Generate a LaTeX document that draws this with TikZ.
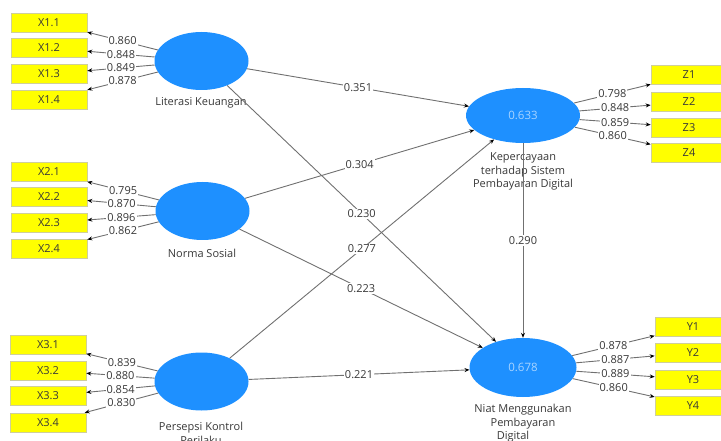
\documentclass[tikz,border=0pt]{standalone}
\usepackage{fontspec}
\setmainfont{Open Sans}
\usetikzlibrary{arrows.meta,shapes.geometric}
\definecolor{lv}{HTML}{1E90FF}
\definecolor{ind}{HTML}{FFFF00}
\definecolor{indb}{HTML}{CFCF9A}
\definecolor{txt}{HTML}{383838}
\definecolor{ln}{HTML}{707070}
\definecolor{rsq}{HTML}{A8D4FF}
\begin{document}
\begin{tikzpicture}[x=1pt,y=-1pt,
  font=\fontsize{11}{13.5}\selectfont,
  latent/.style={ellipse,fill=lv,draw=none,inner sep=0pt,minimum width=94pt,minimum height=58pt,text=rsq,font=\fontsize{11.5}{13.5}\selectfont},
  indic/.style={rectangle,fill=ind,draw=indb,line width=0.6pt,minimum width=76pt,minimum height=19pt,inner sep=0pt,text=txt},
  conn/.style={draw=ln,line width=0.9pt,-{Stealth[length=5pt,width=4pt,color=black]}},
  val/.style={fill=white,inner sep=1pt,text=txt},
  lvl/.style={text=txt,align=center,inner sep=0pt}]
\useasboundingbox (0,0) rectangle (721,441);
% latent variables
\node[latent] (lit) at (201.5,61) {};
\node[latent] (nor) at (202.5,211) {};
\node[latent] (per) at (201.5,381.5) {};
\node[latent,minimum width=114pt,minimum height=55pt] (kep) at (523,115.5) {0.633};
\node[latent,minimum width=107pt,minimum height=59pt] (niat) at (523,367.5) {0.678};
% latent labels
\node[lvl] (litl) at (201,103) {Literasi Keuangan};
\node[lvl] (norl) at (202,253) {Norma Sosial};
\node[lvl] (perl) at (201,433.5) {Persepsi Kontrol\\Perilaku};
\node[lvl] (kepl) at (523,171.5) {Kepercayaan\\terhadap Sistem\\Pembayaran Digital};
\node[lvl] (niatl) at (523,423.5) {Niat Menggunakan\\Pembayaran\\Digital\hspace*{20pt}};
% indicators
\node[indic] (x11) at (49,22.5) {X1.1};
\node[indic] (x12) at (49,48) {X1.2};
\node[indic] (x13) at (49,74) {X1.3};
\node[indic] (x14) at (49,99.5) {X1.4};
\node[indic] (x21) at (49,172) {X2.1};
\node[indic] (x22) at (49,197) {X2.2};
\node[indic] (x23) at (49,223) {X2.3};
\node[indic] (x24) at (49,249) {X2.4};
\node[indic] (x31) at (48,344.5) {X3.1};
\node[indic] (x32) at (48,370.5) {X3.2};
\node[indic] (x33) at (48,396) {X3.3};
\node[indic] (x34) at (48,422.5) {X3.4};
\node[indic] (z1) at (689,75) {Z1};
\node[indic] (z2) at (689,102) {Z2};
\node[indic] (z3) at (689,127.5) {Z3};
\node[indic] (z4) at (689,153) {Z4};
\node[indic] (y1) at (693,326.5) {Y1};
\node[indic] (y2) at (693,352.5) {Y2};
\node[indic] (y3) at (693,379.5) {Y3};
\node[indic] (y4) at (693,405.5) {Y4};
% outer loadings
\draw[conn] (lit) -- node[val]{0.860} (x11);
\draw[conn] (lit) -- node[val]{0.848} (x12);
\draw[conn] (lit) -- node[val]{0.849} (x13);
\draw[conn] (lit) -- node[val]{0.878} (x14);
\draw[conn] (nor) -- node[val]{0.795} (x21);
\draw[conn] (nor) -- node[val]{0.870} (x22);
\draw[conn] (nor) -- node[val]{0.896} (x23);
\draw[conn] (nor) -- node[val]{0.862} (x24);
\draw[conn] (per) -- node[val]{0.839} (x31);
\draw[conn] (per) -- node[val]{0.880} (x32);
\draw[conn] (per) -- node[val]{0.854} (x33);
\draw[conn] (per) -- node[val]{0.830} (x34);
\draw[conn] (kep) -- node[val]{0.798} (z1);
\draw[conn] (kep) -- node[val]{0.848} (z2);
\draw[conn] (kep) -- node[val]{0.859} (z3);
\draw[conn] (kep) -- node[val]{0.860} (z4);
\draw[conn] (niat) -- node[val]{0.878} (y1);
\draw[conn] (niat) -- node[val]{0.887} (y2);
\draw[conn] (niat) -- node[val]{0.889} (y3);
\draw[conn] (niat) -- node[val]{0.860} (y4);
% structural paths
\draw[conn] (lit) -- node[val]{0.351} (kep);
\draw[conn] (nor) -- node[val]{0.304} (kep);
\draw[conn] (per) -- node[val]{0.277} (kep);
\draw[conn] (lit) -- node[val]{0.230} (niat);
\draw[conn] (nor) -- node[val]{0.223} (niat);
\draw[conn] (per) -- node[val]{0.221} (niat);
\draw[conn] (kep) -- node[val]{0.290} (niat);
\end{tikzpicture}
\end{document}
